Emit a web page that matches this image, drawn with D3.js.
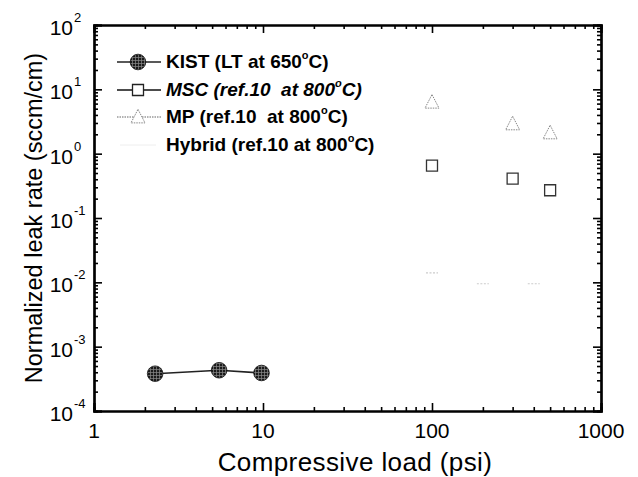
<!DOCTYPE html>
<html>
<head>
<meta charset="utf-8">
<script src="https://cdn.jsdelivr.net/npm/d3@7"></script>
<style>
  body { margin: 0; background: #fff; }
  text { font-family: Arial, "Liberation Sans", sans-serif; white-space: pre; }
</style>
</head>
<body>
<div id="chart"></div>
<script>
// data
var kistLoad = [2.3, 5.5, 9.8];
var kistLeak = [0.00038, 0.00043, 0.00039];
var mscLoad = [100, 300, 500];
var mscLeak = [0.65, 0.41, 0.27];
var mpLoad = [100, 300, 500];
var mpLeak = [6.3, 2.9, 2.1];
var hybLoad = [100, 200, 400];
var hybLeak = [0.014, 0.0095, 0.0095];
var xTicks = [1, 10, 100, 1000];
var yExps = [-4, -3, -2, -1, 0, 1, 2];

var width = 638, height = 477;
var svg = d3.select("#chart").append("svg")
    .attr("width", width).attr("height", height);

var x = d3.scaleLog().domain([1, 1000]).range([94, 601]);
var y = d3.scaleLog().domain([1e-4, 1e2]).range([411, 25]);

// crosshatch fill for the KIST dots
var defs = svg.append("defs");
var pat = defs.append("pattern").attr("id", "hatch")
    .attr("width", 3).attr("height", 3).attr("patternUnits", "userSpaceOnUse");
pat.append("rect").attr("width", 3).attr("height", 3).attr("fill", "#1a1a1a");
pat.append("path").attr("d", "M0,0.5H3M0.5,0V3").attr("stroke", "#8a8a8a").attr("stroke-width", 0.7);

// minor tick values
function minors(lo, hi) {
  var out = [];
  for (var e = lo; e < hi; e++)
    for (var k = 2; k < 10; k++) out.push(k * Math.pow(10, e));
  return out;
}
var xMinor = minors(0, 3), yMinor = minors(-4, 2);

function drawAxis(gen, tr, vals, size) {
  var g = svg.append("g").attr("transform", tr)
      .call(gen.tickValues(vals).tickSize(size).tickFormat(""));
  g.select(".domain").attr("stroke", "#000").attr("stroke-width", 2.2);
  g.selectAll(".tick line").attr("stroke", "#000").attr("stroke-width", 1.6);
  return g;
}
var yMajor = yExps.map(function(e) { return Math.pow(10, e); });
drawAxis(d3.axisBottom(x), "translate(0,411)", xTicks, -8);
drawAxis(d3.axisBottom(x), "translate(0,411)", xMinor, -4);
drawAxis(d3.axisTop(x), "translate(0,25)", xTicks, -8);
drawAxis(d3.axisTop(x), "translate(0,25)", xMinor, -4);
drawAxis(d3.axisLeft(y), "translate(94,0)", yMajor, -8);
drawAxis(d3.axisLeft(y), "translate(94,0)", yMinor, -4);
drawAxis(d3.axisRight(y), "translate(601,0)", yMajor, -8);
drawAxis(d3.axisRight(y), "translate(601,0)", yMinor, -4);

// tick labels
svg.append("g").selectAll("text").data(xTicks).enter().append("text")
    .attr("x", function(d) { return x(d); })
    .attr("y", 438)
    .attr("text-anchor", "middle")
    .attr("font-size", 21)
    .text(function(d) { return d; });

var yl = svg.append("g").selectAll("g").data(yExps).enter().append("g")
    .attr("transform", function(d) { return "translate(0," + y(Math.pow(10, d)) + ")"; });
yl.append("text").attr("x", 73).attr("y", 10).attr("text-anchor", "end")
    .attr("font-size", 21).text("10");
yl.append("text").attr("x", 74).attr("y", -3).attr("font-size", 13)
    .text(function(d) { return d; });

// axis titles
svg.append("text").attr("x", 355).attr("y", 471).attr("text-anchor", "middle")
    .attr("font-size", 26).attr("letter-spacing", 0.4).text("Compressive load (psi)");
svg.append("text").attr("transform", "translate(42,218) rotate(-90)")
    .attr("text-anchor", "middle").attr("font-size", 23.5)
    .text("Normalized leak rate (sccm/cm)");

// series
var line = d3.line().x(function(d) { return x(d[0]); }).y(function(d) { return y(d[1]); });
var kist = d3.zip(kistLoad, kistLeak);
svg.append("path").datum(kist).attr("d", line)
    .attr("fill", "none").attr("stroke", "#222").attr("stroke-width", 1.6);
svg.append("g").selectAll("circle").data(kist).enter().append("circle")
    .attr("cx", function(d) { return x(d[0]); })
    .attr("cy", function(d) { return y(d[1]); })
    .attr("r", 7.8).attr("fill", "url(#hatch)").attr("stroke", "#111").attr("stroke-width", 0.8);

var sq = d3.symbol().type(d3.symbolSquare).size(121);
svg.append("g").selectAll("path").data(d3.zip(mscLoad, mscLeak)).enter().append("path")
    .attr("transform", function(d) { return "translate(" + x(d[0]) + "," + y(d[1]) + ")"; })
    .attr("d", sq).attr("fill", "#fff").attr("stroke", "#333").attr("stroke-width", 1.3);

function tri(s) { return "M0," + (-s * 0.55) + "L" + (s * 0.5) + "," + (s * 0.42) + "L" + (-s * 0.5) + "," + (s * 0.42) + "Z"; }
svg.append("g").selectAll("path").data(d3.zip(mpLoad, mpLeak)).enter().append("path")
    .attr("transform", function(d) { return "translate(" + x(d[0]) + "," + y(d[1]) + ")"; })
    .attr("d", tri(14)).attr("fill", "none").attr("stroke", "#888")
    .attr("stroke-width", 1).attr("stroke-dasharray", "1.5,1");

svg.append("g").selectAll("path").data(d3.zip(hybLoad, hybLeak)).enter().append("path")
    .attr("transform", function(d) { return "translate(" + x(d[0]) + "," + y(d[1]) + ")"; })
    .attr("d", "M-6,0H6").attr("stroke", "#ccc").attr("stroke-width", 1.2)
    .attr("stroke-dasharray", "2,1.5");

// legend
var leg = svg.append("g");
var rows = [
  { y: 62, name: "KIST", rest: " (LT at 650", italic: false },
  { y: 90, name: "MSC", rest: " (ref.10  at 800", italic: true },
  { y: 117, name: "MP", rest: " (ref.10  at 800", italic: false },
  { y: 145, name: "Hybrid", rest: " (ref.10 at 800", italic: false }
];
leg.append("path").attr("d", "M117,62H161").attr("stroke", "#222").attr("stroke-width", 1.6);
leg.append("circle").attr("cx", 138).attr("cy", 62).attr("r", 7.8)
    .attr("fill", "url(#hatch)").attr("stroke", "#111").attr("stroke-width", 0.8);
leg.append("path").attr("d", "M117,90H161").attr("stroke", "#111").attr("stroke-width", 1.6);
leg.append("path").attr("transform", "translate(138,90)").attr("d", sq)
    .attr("fill", "#fff").attr("stroke", "#222").attr("stroke-width", 1.3);
leg.append("path").attr("d", "M117,117H161").attr("stroke", "#999").attr("stroke-width", 1.4)
    .attr("stroke-dasharray", "1.5,1");
leg.append("path").attr("transform", "translate(138,117)").attr("d", tri(14))
    .attr("fill", "#fff").attr("stroke", "#888").attr("stroke-width", 1).attr("stroke-dasharray", "1.5,1");
leg.append("path").attr("d", "M120,145H156").attr("stroke", "#eee").attr("stroke-width", 1);

var lt = leg.selectAll("text").data(rows).enter().append("text")
    .attr("x", 166).attr("y", function(d) { return d.y + 6; })
    .attr("font-size", 19).attr("font-weight", "bold")
    .attr("font-style", function(d) { return d.italic ? "italic" : "normal"; });
lt.append("tspan").text(function(d) { return d.name; });
lt.append("tspan").text(function(d) { return d.rest; });
lt.append("tspan").attr("font-size", 11).attr("dy", -9).text("o");
lt.append("tspan").attr("dy", 9).text("C)");
</script>
</body>
</html>
